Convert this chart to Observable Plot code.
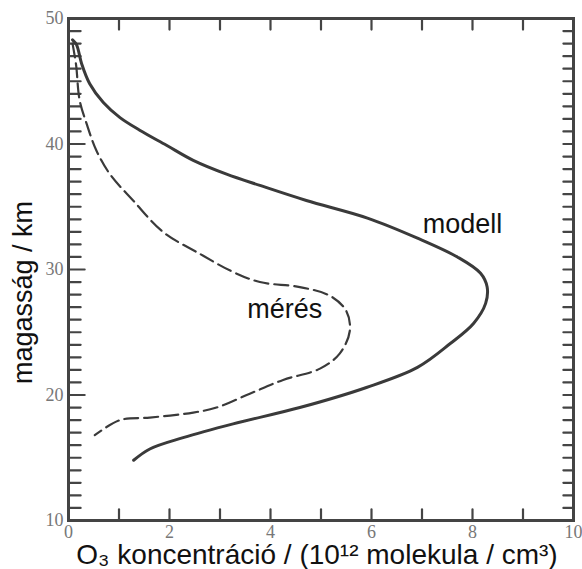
<!DOCTYPE html>
<html><head><meta charset="utf-8">
<script src="https://cdn.jsdelivr.net/npm/d3@7"></script>
<script src="https://cdn.jsdelivr.net/npm/@observablehq/plot@0.6"></script>
<style>body{margin:0;background:#fff}</style>
</head><body><div id="chart"></div>
<script>
// modell (solid)
const modellX = [0.08, 0.16, 0.26, 0.42, 0.69, 1.02, 1.41, 1.94, 2.47, 3.13, 3.79, 4.71, 5.92, 6.91, 7.7, 8.16, 8.29, 8.26, 8.02, 7.56, 6.91, 5.9, 4.58, 3.26, 2.27, 1.61, 1.29];
const modellY = [48.3, 47.9, 46.4, 44.8, 43.3, 42.1, 41.1, 39.9, 38.7, 37.6, 36.7, 35.5, 34.1, 32.5, 31.0, 29.7, 28.6, 27.3, 25.7, 24.1, 22.2, 20.6, 19.0, 17.7, 16.6, 15.7, 14.8];
// mérés (dashed)
const meresX = [0.08, 0.15, 0.22, 0.36, 0.55, 0.82, 1.28, 1.87, 2.6, 3.26, 3.79, 4.58, 5.18, 5.5, 5.57, 5.37, 4.98, 4.25, 3.59, 2.93, 2.47, 1.61, 1.02, 0.52];
const meresY = [48.0, 46.3, 43.5, 41.6, 39.5, 37.6, 35.5, 33.0, 31.25, 29.8, 29.0, 28.6, 27.9, 26.7, 25.1, 23.3, 22.1, 21.2, 20.1, 19.0, 18.6, 18.2, 18.0, 16.8];

const xTickLabels = [0, 2, 4, 6, 8, 10];
const yTickLabels = [10, 20, 30, 40, 50];
const xTicks = [1, 2, 3, 4, 5, 6, 7, 8, 9];
const yMinorTicks = d3.range(11, 50).filter(d => d % 10 !== 0);
const yMajorTicks = [20, 30, 40];
const yRightTicks = d3.range(11, 50);

const seriesNames = ["modell", "mérés"];
const seriesLabelX = [7.8, 4.28];
const seriesLabelY = [32.9, 26.1];

const xLabel = "O₃ koncentráció / (10¹² molekula / cm³)";
const yLabel = "magasság / km";

const W = 582, H = 569, ML = 68, MR = 9, MT = 18, MB = 49;

const modell = modellX.map((x, i) => ({x, y: modellY[i]}));
const meres = meresX.map((x, i) => ({x, y: meresY[i]}));
const labels = seriesNames.map((name, i) => ({name, x: seriesLabelX[i], y: seriesLabelY[i]}));

// inward tick segments (lengths: x 0.24 ≈ 12px, y 0.88 ≈ 11px)
const tickSegs = [];
yMinorTicks.forEach(v => tickSegs.push({k: "l" + v, x: 0, y: v}, {k: "l" + v, x: 0.24, y: v}));
yMajorTicks.forEach(v => tickSegs.push({k: "L" + v, x: 0, y: v}, {k: "L" + v, x: 0.32, y: v}));
yRightTicks.forEach(v => tickSegs.push({k: "r" + v, x: 10, y: v}, {k: "r" + v, x: 9.8, y: v}));
xTicks.forEach(v => tickSegs.push({k: "b" + v, x: v, y: 10}, {k: "b" + v, x: v, y: 10.88}));
xTicks.forEach(v => tickSegs.push({k: "t" + v, x: v, y: 50}, {k: "t" + v, x: v, y: 49.12}));

const numStyle = {tickSize: 0, label: null, fill: "#777", fontFamily: "Liberation Serif", fontSize: 18};
const sans = {fontFamily: "Liberation Sans, Arial, sans-serif", fill: "#111"};

const chart = Plot.plot({
  width: W, height: H,
  marginLeft: ML, marginRight: MR, marginTop: MT, marginBottom: MB,
  x: {domain: [0, 10]},
  y: {domain: [10, 50]},
  marks: [
    Plot.line(tickSegs, {x: "x", y: "y", z: "k", stroke: "#444", strokeWidth: 2.2}),
    Plot.axisX({anchor: "bottom", ticks: xTickLabels, tickPadding: 5, ...numStyle}),
    Plot.axisY({anchor: "left", ticks: yTickLabels, tickPadding: 5, ...numStyle}),
    Plot.frame({stroke: "#444", strokeWidth: 3}),
    Plot.line(modell, {x: "x", y: "y", curve: "catmull-rom", stroke: "#3a3a3a", strokeWidth: 3}),
    Plot.line(meres, {x: "x", y: "y", curve: "catmull-rom", stroke: "#3a3a3a", strokeWidth: 2.2, strokeDasharray: "14,6"}),
    Plot.text(labels, {x: "x", y: "y", text: "name", lineAnchor: "bottom", fontSize: 27, ...sans}),
    Plot.text([xLabel], {frameAnchor: "bottom", textAnchor: "middle", lineAnchor: "bottom", dy: 43, dx: -4, fontSize: 28, ...sans}),
    Plot.text([yLabel], {frameAnchor: "left", textAnchor: "middle", lineAnchor: "middle", rotate: -90, dx: -45, dy: 23, fontSize: 27, ...sans})
  ]
});
document.getElementById("chart").appendChild(chart);
</script>
</body></html>
